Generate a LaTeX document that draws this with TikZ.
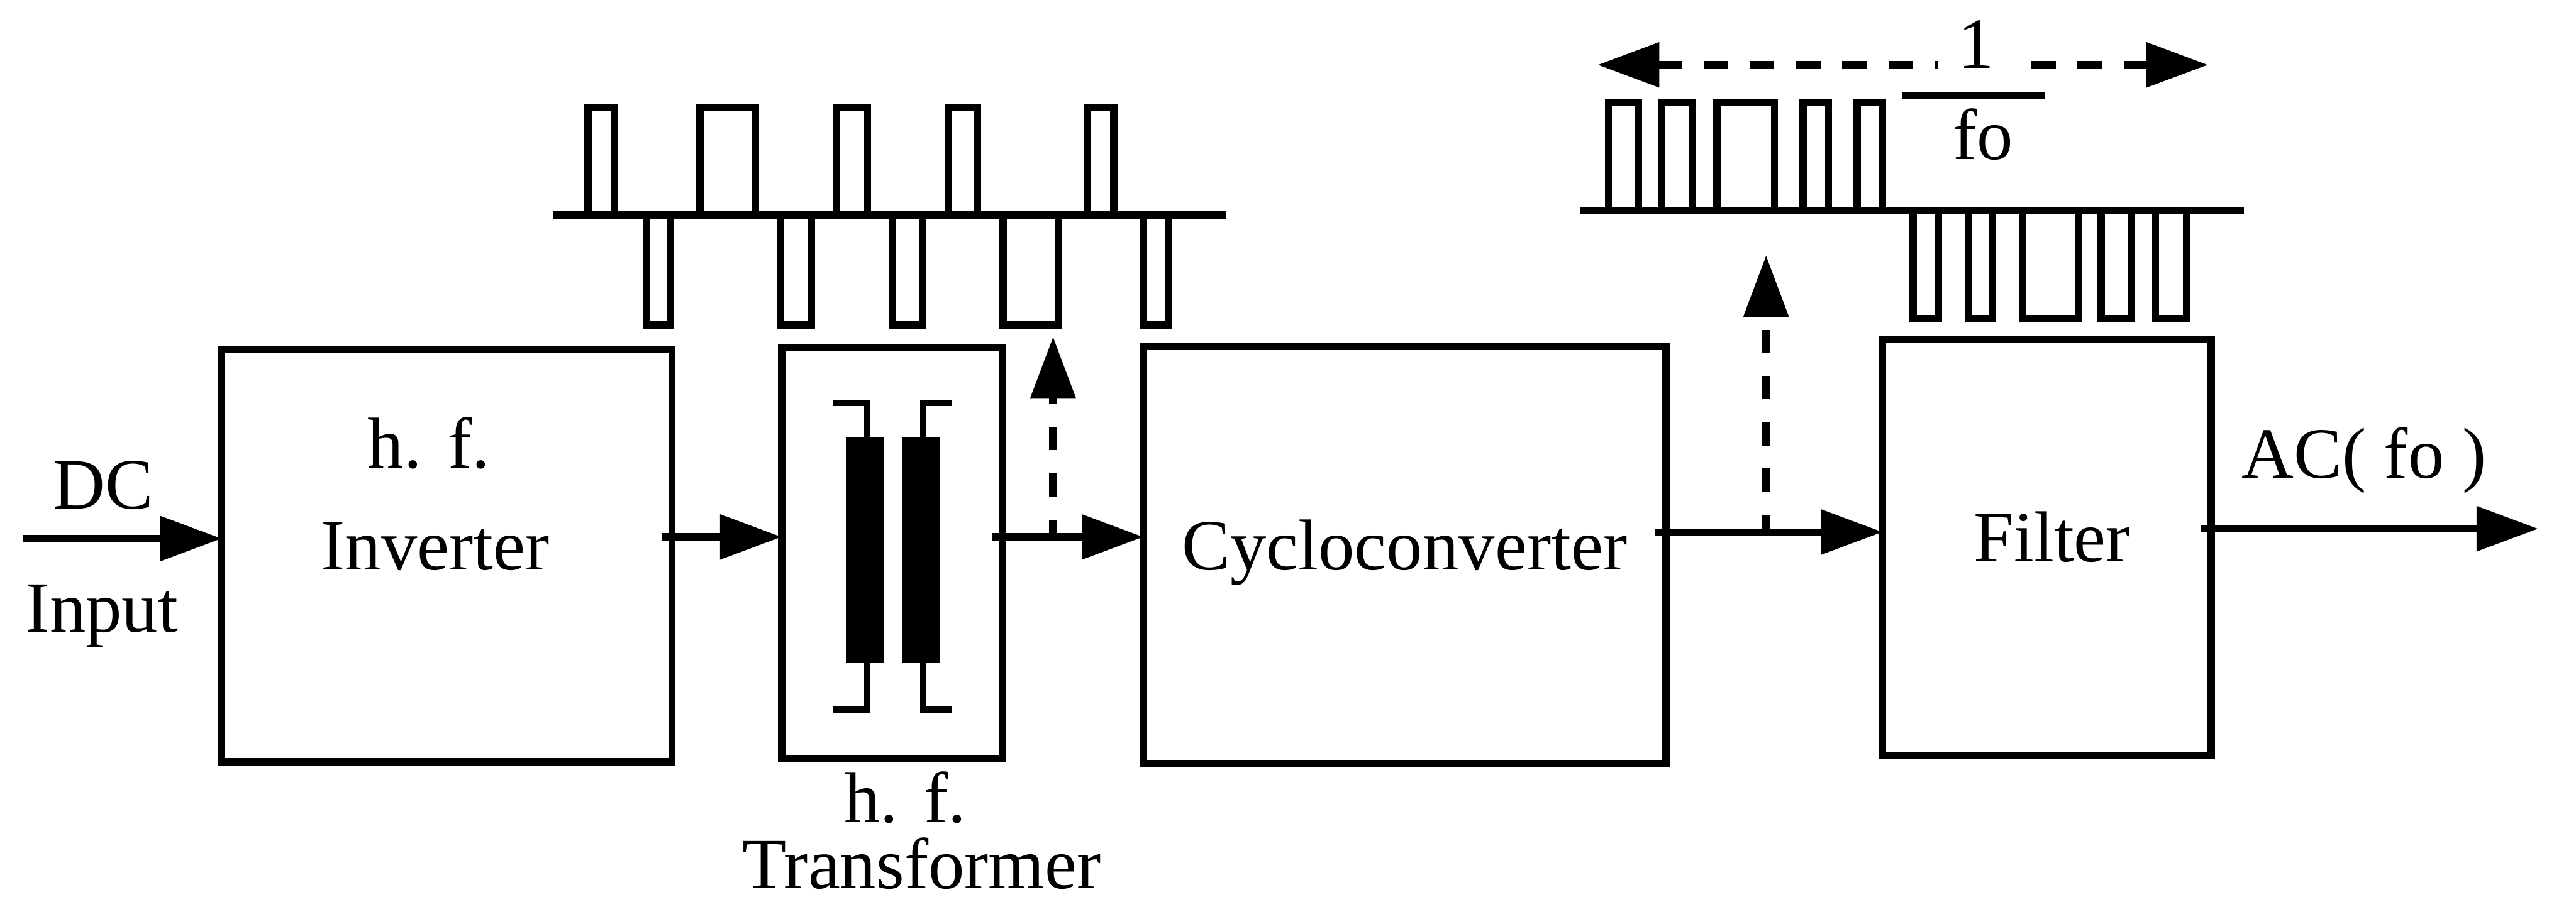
\documentclass[tikz,border=0pt]{standalone}
\usepackage{fontspec}
\setmainfont{Liberation Serif}
\usetikzlibrary{arrows.meta}
\newcommand{\wsp}{\hspace{0.36em}}
\tikzset{
  x=0.04cm,y=-0.04cm,
  blockbox/.style={draw,line width=5pt,inner sep=0pt,outer sep=0pt},
  lbl/.style={anchor=base,inner sep=0pt,font=\fontsize{50}{50}\selectfont},
  link/.style={line width=5pt,-{Triangle[length=1.5cm,width=1.06cm]}},
  dashlink/.style={line width=5.5pt,dash pattern=on 16pt off 16pt,dash phase=4pt,-{Triangle[length=1.5cm,width=1.06cm]}},
  dimline/.style={line width=5pt,dash pattern=on 17pt off 15pt,{Triangle[length=1.5cm,width=1.06cm]}-},
  wave/.style={line width=5pt,line join=miter},
  base/.style={line width=5pt},
  lead/.style={line width=4.5pt},
  core/.style={fill=black,draw=none}
}
\begin{document}
\begin{tikzpicture}
\useasboundingbox (0,0) rectangle (1568,549);
% blocks
\node[blockbox,minimum width=10.96cm,minimum height=10.04cm] (inv) at (272,338.5) {};
\node[blockbox,minimum width=5.376cm,minimum height=10cm] (trf) at (543,337) {};
\node[blockbox,minimum width=12.72cm,minimum height=10.16cm] (cyc) at (855,338) {};
\node[blockbox,minimum width=8cm,minimum height=10.12cm] (fil) at (1246,333.5) {};
% labels
\node[lbl] (dc) at (63,310) {DC};
\node[lbl] (inp) at (62,385) {Input};
\node[lbl] (hf1) at (261,285) {h.\wsp f.};
\node[lbl] (invt) at (265,347) {Inverter};
\node[lbl] (hf2) at (551,501) {h.\wsp f.};
\node[lbl] (trft) at (561,541) {Transformer};
\node[lbl] (cyct) at (855,347) {Cycloconverter};
\node[lbl] (filt) at (1249,342) {Filter};
\node[lbl] (act) at (1439,291) {AC( fo )};
\node[lbl] (fo) at (1207,97) {fo};
\node[lbl,inner xsep=14pt] (one) at (1203,41.5) {1};
% connector ends
\coordinate (in) at (14,328);
\coordinate (a) at (403,327);
\coordinate (b) at (604,327);
\coordinate (bt) at (641,327);
\coordinate (bh) at (641,205);
\coordinate (c) at (1007,324);
\coordinate (ct) at (1075,324);
\coordinate (ch) at (1075,155.5);
\coordinate (d) at (1340,322);
\coordinate (out) at (1545,322);
\coordinate (l) at (972.5,39.5);
\coordinate (r) at (1344,39.5);
\coordinate (fa) at (1158,58);
\coordinate (fb) at (1244.5,58);
% connectors
\draw[link] (in) -- (inv.west |- in);
\draw[link] (a) -- (trf.west |- a);
\draw[link] (b) -- (cyc.west |- b);
\draw[link] (c) -- (fil.west |- c);
\draw[link] (d) -- (out);
\draw[dashlink] (bt) -- (bh);
\draw[dashlink] (ct) -- (ch);
\draw[dimline] (l) -- (one.west |- l);
\draw[dimline] (r) -- (one.east |- r);
\draw[base] (fa) -- (fb);
% transformer
\fill[core] (515,266) rectangle (538,404);
\fill[core] (549,266) rectangle (572,404);
\draw[lead] (507,245.5) -- (528,245.5) -- (528,266);
\draw[lead] (528,404) -- (528,432) -- (507,432);
\draw[lead] (579,245.5) -- (562,245.5) -- (562,266);
\draw[lead] (562,404) -- (562,432) -- (579,432);
% first waveform
\draw[base] (337,131) -- (746,131);
\foreach \p/\q in {358/374,426/460,509/528,577/595,662/678}
  \draw[wave] (\p,131) -- (\p,65.5) -- (\q,65.5) -- (\q,131);
\foreach \p/\q in {393.5/408,475/494,543/561.5,610.5/644,696/711}
  \draw[wave] (\p,131) -- (\p,198) -- (\q,198) -- (\q,131);
% second waveform
\draw[base] (962,128) -- (1366,128);
\foreach \p/\q in {979/997.5,1011.5/1030,1045/1080,1097.5/1113,1130.5/1146}
  \draw[wave] (\p,128) -- (\p,62.5) -- (\q,62.5) -- (\q,128);
\foreach \p/\q in {1164.5/1180,1198/1213,1231/1265,1279/1297.5,1312/1331}
  \draw[wave] (\p,128) -- (\p,194) -- (\q,194) -- (\q,128);
\end{tikzpicture}
\end{document}
